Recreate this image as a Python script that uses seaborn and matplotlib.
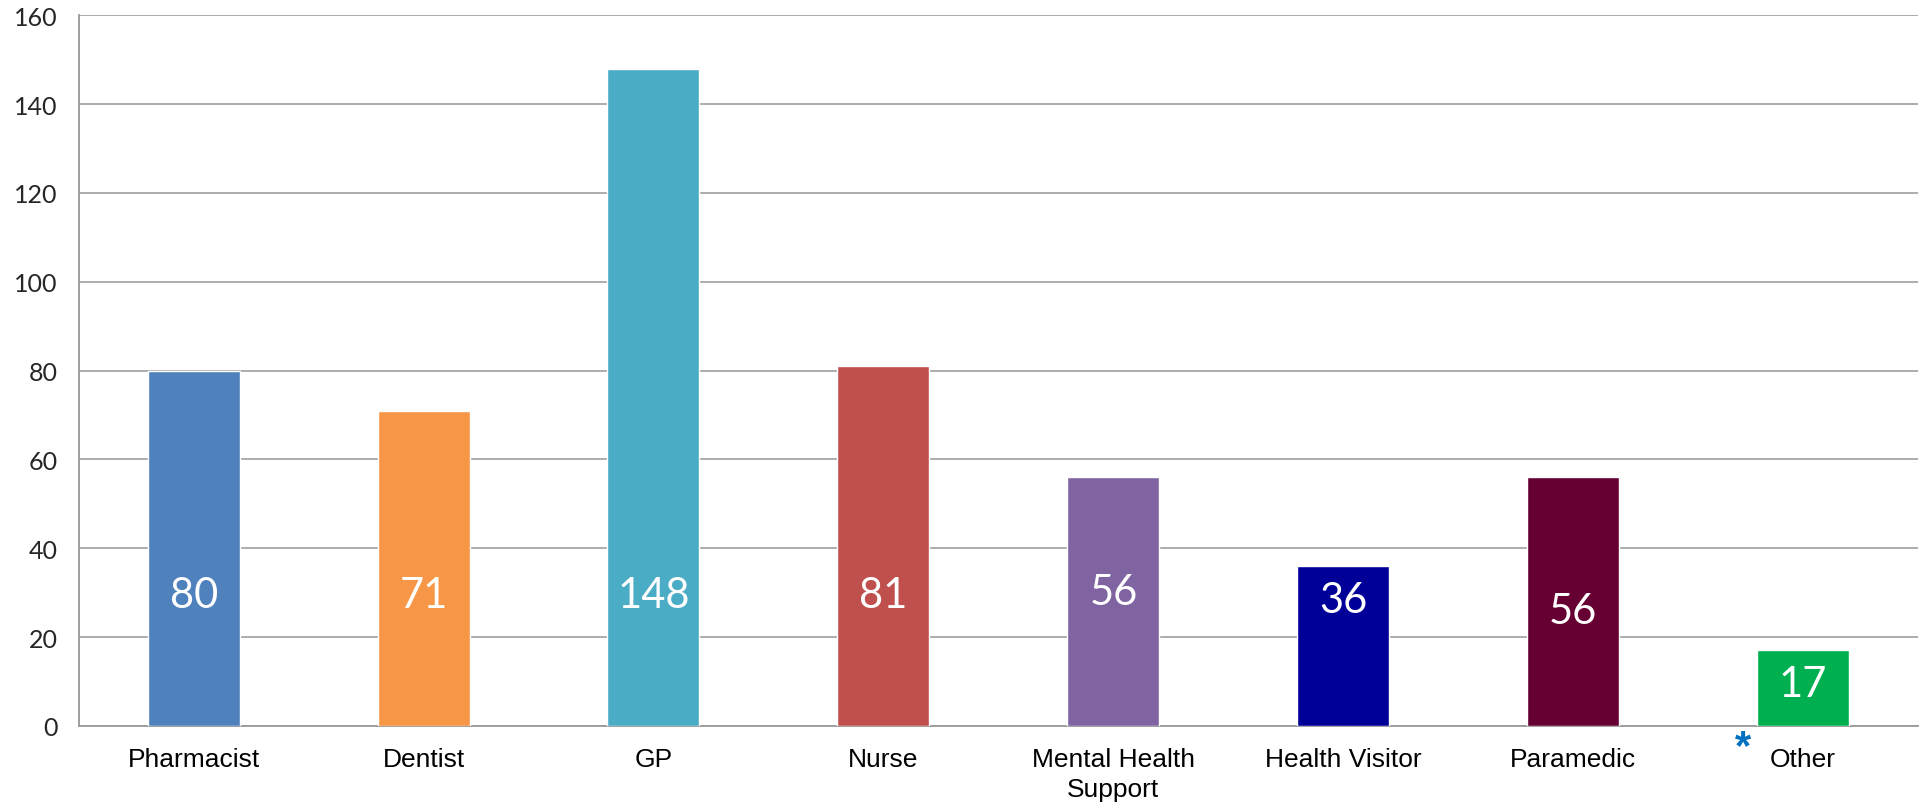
import matplotlib
matplotlib.use("Agg")
import matplotlib.pyplot as plt
import seaborn as sns
import pandas as pd

categories = ["Pharmacist", "Dentist", "GP", "Nurse", "Mental Health\nSupport",
              "Health Visitor", "Paramedic", "Other"]
counts = [80, 71, 148, 81, 56, 36, 56, 17]
bar_colors = ["#4F81BD", "#F79646", "#4BACC6", "#C0504D", "#8064A2",
              "#000099", "#660033", "#00B050"]
y_ticks = [0, 20, 40, 60, 80, 100, 120, 140, 160]

# where the value labels sit inside each bar (hand placed in the original)
label_y = [29.5, 29.5, 29.5, 29.5, 30.1, 28.4, 25.9, 9.4]

df = pd.DataFrame({"role": categories, "count": counts})

sns.set_theme(style="white")
plt.rcParams["font.family"] = ["Liberation Sans", "DejaVu Sans"]

fig = plt.figure(figsize=(19.19, 8.04), dpi=100)
ax = fig.add_axes([0.041, 0.0958, 0.9585, 0.884])

sns.barplot(data=df, x="role", y="count", hue="role", palette=bar_colors,
            legend=False, width=0.4, saturation=1, ax=ax, zorder=3)

for i, (v, ly) in enumerate(zip(counts, label_y)):
    ax.text(i, ly, str(v), ha="center", va="center", color="white",
            fontsize=30, family=["Lato", "DejaVu Sans"], zorder=4)

# blue asterisk next to "Other"
ax.text(6.74, -4.8, "*", ha="center", va="center", color="#0070C0",
        fontsize=30, fontweight="bold", clip_on=False)

ax.set_xlim(-0.5, 7.5)
ax.set_ylim(0, 160)
ax.set_yticks(y_ticks)
ax.set_yticklabels([str(t) for t in y_ticks], family=["Lato", "DejaVu Sans"],
                   fontsize=18, color="#262626")
ax.yaxis.grid(True, color="#A6A6A6", linewidth=1.3, zorder=0)
ax.set_axisbelow(True)
ax.tick_params(axis="y", length=0, pad=15)
ax.tick_params(axis="x", length=0, pad=15, labelsize=19, labelcolor="black")
for t in ax.get_xticklabels():
    t.set_linespacing(1.35)
ax.set_xlabel("")
ax.set_ylabel("")

for s in ["top", "right"]:
    ax.spines[s].set_visible(False)
for s in ["left", "bottom"]:
    ax.spines[s].set_color("#999999")
    ax.spines[s].set_linewidth(1.3)

fig.savefig("out.png", dpi=100)
